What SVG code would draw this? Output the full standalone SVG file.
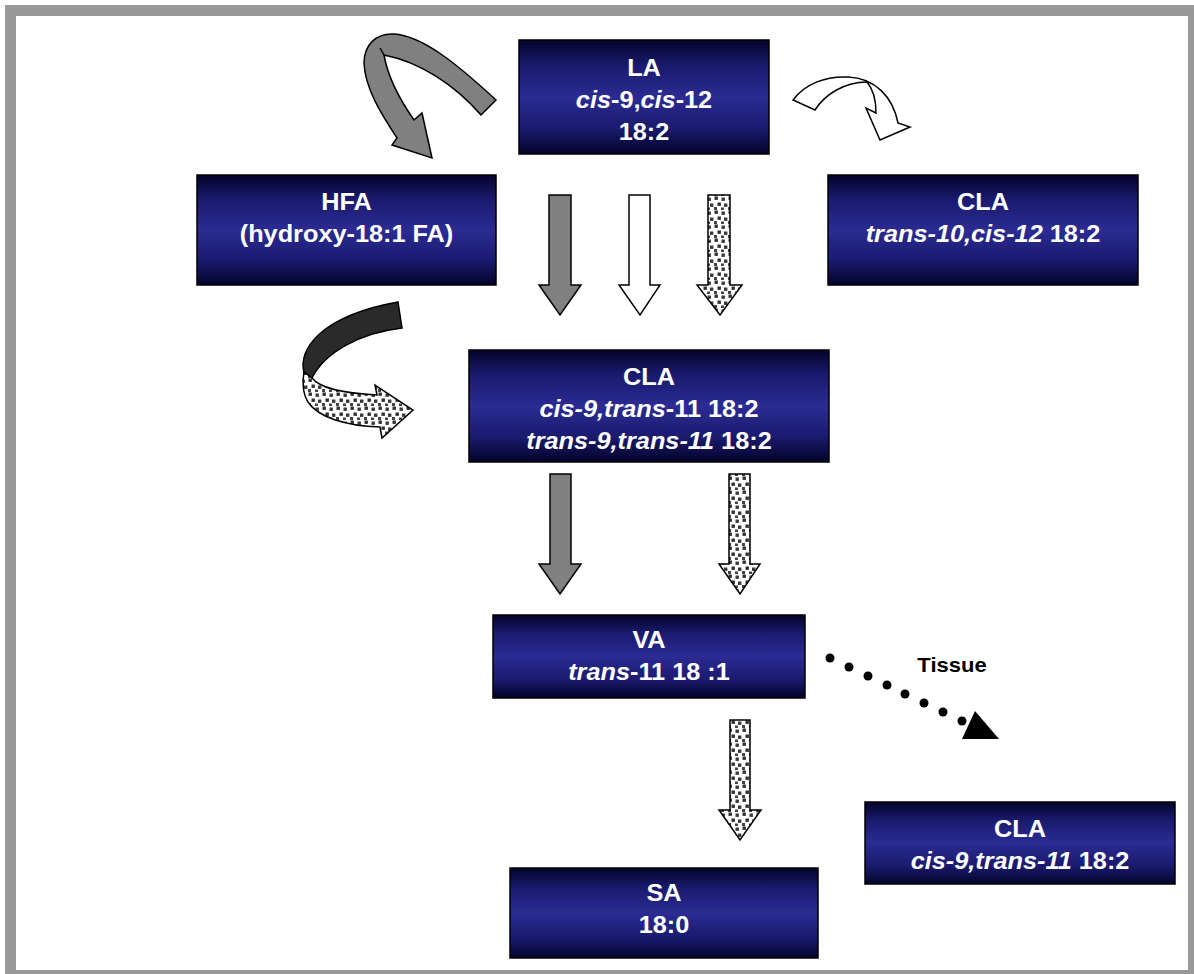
<svg xmlns="http://www.w3.org/2000/svg" width="1194" height="974" viewBox="0 0 1194 974">
<defs>
<linearGradient id="boxg" x1="0" y1="0" x2="0" y2="1">
<stop offset="0" stop-color="#03032a"/>
<stop offset="0.22" stop-color="#1a1a6e"/>
<stop offset="0.5" stop-color="#2b2b93"/>
<stop offset="0.78" stop-color="#1a1a6e"/>
<stop offset="1" stop-color="#03032a"/>
</linearGradient>
<pattern id="spk" width="14" height="14" patternUnits="userSpaceOnUse">
<rect width="14" height="14" fill="#fff"/>
<rect x="0.5" y="0.5" width="3.4" height="3.4" fill="#303030"/>
<rect x="7.5" y="1.5" width="3.4" height="3.4" fill="#3a3a3a"/>
<rect x="3.5" y="6.5" width="3.4" height="3.4" fill="#303030"/>
<rect x="10" y="7.5" width="3.4" height="3.4" fill="#3a3a3a"/>
<rect x="0" y="11" width="3" height="3" fill="#444"/>
<rect x="7" y="11.5" width="3" height="2.5" fill="#444"/>
</pattern>
<style>
.box{fill:url(#boxg);stroke:#000;stroke-width:1.5}
.t{font-family:"Liberation Sans",Arial,sans-serif;font-weight:bold;font-size:23px;fill:#fff;text-anchor:middle}
.i{font-style:italic}
.arr{stroke:#000;stroke-width:1.5;stroke-linejoin:miter}
.gray{fill:#808080}
.white{fill:#fff}
.spk{fill:url(#spk)}
.dark{fill:#2a2a2a}
</style>
</defs>
<rect x="0" y="0" width="1194" height="974" fill="#fff"/>
<rect x="5" y="5" width="1195" height="976" fill="#999"/>
<rect x="16" y="16" width="1172" height="954" fill="#fff"/>

<g id="connectors">
<path class="arr gray" d="M496,100 C455,62 422,36 394,34 C376,33 364,45 364,63 C365,90 384,118 397,138 L392,145 L432,158 L422,113 L414,120 C400,100 388,78 384,55 C420,62 455,85 481,115 Z"/>
<path class="arr" fill="none" d="M384,55 L380,48"/>
<path class="arr white" d="M793,100 C805,84 825,76 848,77 C875,78 893,97 898,123 L910,127 L880,140 L866,108 L876,113 C876,99 873,89 867,82 C845,82 825,94 815,110 Z"/>
<path class="arr dark" d="M398,302 L402,328 C360,333 325,352 312,378 L304,372 C298,350 320,316 398,302 Z"/>
<path class="arr spk" d="M304,372 L312,378 C320,388 340,393 377,395 L375,385 L413,410 L382,438 L380,427 C345,426 318,417 308,402 C303,394 302,382 304,372 Z"/>
<polygon class="arr gray" points="549,195 571,195 571,285 581,285 560,315 539,285 549,285"/>
<polygon class="arr white" points="629,195 650,195 650,285 660,285 640,315 619,285 629,285"/>
<polygon class="arr spk" points="708,195 730,195 730,285 742,285 720,315 697,285 708,285"/>
<polygon class="arr gray" points="550,474 571,474 571,564 581,564 560,594 539,564 550,564"/>
<polygon class="arr spk" points="729,474 750,474 750,564 760,564 740,594 719,564 729,564"/>
<polygon class="arr spk" points="730,720 750,720 750,810 761,810 740,840 719,810 730,810"/>
<g fill="#000">
<circle cx="830" cy="658" r="4.5"/>
<circle cx="849" cy="667" r="4.5"/>
<circle cx="868" cy="676" r="4.5"/>
<circle cx="887" cy="685" r="4.5"/>
<circle cx="905" cy="694" r="4.5"/>
<circle cx="924" cy="703" r="4.5"/>
<circle cx="943" cy="712" r="4.5"/>
<circle cx="962" cy="721" r="4.5"/>
<polygon points="975,711 962,739 999,739"/>
</g>
<g transform="translate(952 0) scale(1.1 1)"><text class="t" x="0" y="672" style="font-size:20px;fill:#000">Tissue</text></g>
</g>

<g id="node-la">
<rect class="box" x="519" y="40" width="250" height="114"/>
<g transform="translate(644 0) scale(1.1 1)">
<text class="t" x="0" y="76">LA</text>
<text class="t" x="0" y="108"><tspan class="i">cis</tspan>-9,<tspan class="i">cis</tspan>-12</text>
<text class="t" x="0" y="140">18:2</text>
</g>
</g>

<g id="node-hfa">
<rect class="box" x="197" y="175" width="299" height="110"/>
<g transform="translate(346.5 0) scale(1.1 1)">
<text class="t" x="0" y="210">HFA</text>
<text class="t" x="0" y="242">(hydroxy-18:1 FA)</text>
</g>
</g>

<g id="node-cla-t10c12">
<rect class="box" x="828" y="175" width="310" height="110"/>
<g transform="translate(983 0) scale(1.1 1)">
<text class="t" x="0" y="210">CLA</text>
<text class="t" x="0" y="242"><tspan class="i">trans-10,cis-12</tspan> 18:2</text>
</g>
</g>

<g id="node-cla-c9t11">
<rect class="box" x="469" y="350" width="360" height="112"/>
<g transform="translate(649 0) scale(1.1 1)">
<text class="t" x="0" y="385">CLA</text>
<text class="t" x="0" y="417"><tspan class="i">cis-9,trans</tspan>-11 18:2</text>
<text class="t" x="0" y="449"><tspan class="i">trans-9,trans-11</tspan> 18:2</text>
</g>
</g>

<g id="node-va">
<rect class="box" x="493" y="615" width="312" height="83"/>
<g transform="translate(649 0) scale(1.1 1)">
<text class="t" x="0" y="648">VA</text>
<text class="t" x="0" y="680"><tspan class="i">trans</tspan>-11 18 :1</text>
</g>
</g>

<g id="node-cla-tissue">
<rect class="box" x="865" y="802" width="310" height="82"/>
<g transform="translate(1020 0) scale(1.1 1)">
<text class="t" x="0" y="837">CLA</text>
<text class="t" x="0" y="869"><tspan class="i">cis-9,trans-11</tspan> 18:2</text>
</g>
</g>

<g id="node-sa">
<rect class="box" x="510" y="868" width="308" height="90"/>
<g transform="translate(664 0) scale(1.1 1)">
<text class="t" x="0" y="901">SA</text>
<text class="t" x="0" y="933">18:0</text>
</g>
</g>
</svg>
